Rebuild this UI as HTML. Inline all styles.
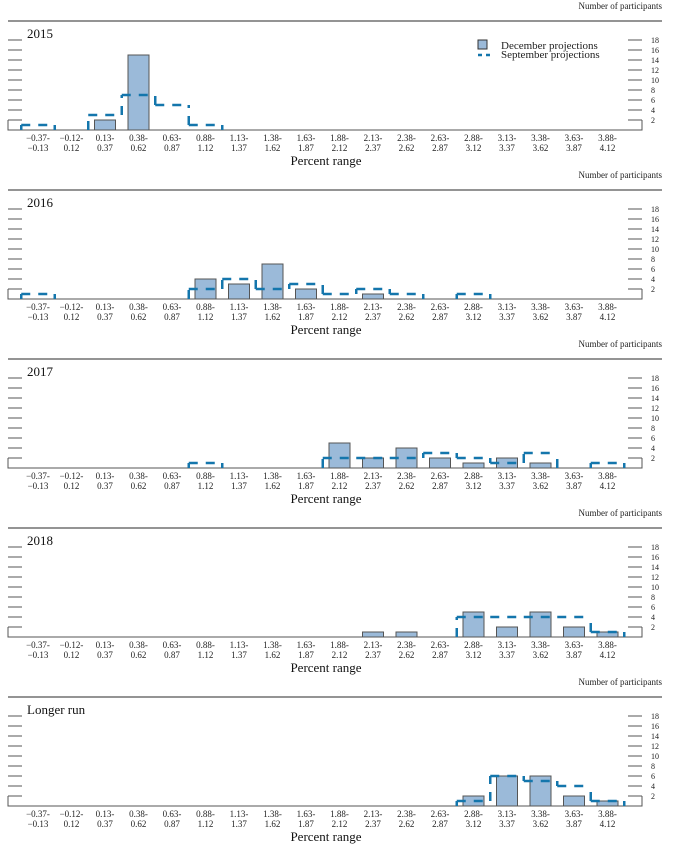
<!DOCTYPE html>
<html><head><meta charset="utf-8"><style>
body{margin:0;background:#fff;}
svg{display:block;}
svg text{font-family:"Liberation Serif","DejaVu Serif",serif;}
</style></head><body>
<svg id="chart" width="674" height="849" font-family="Liberation Serif, serif"></svg>
<script>
const binsTop=["\u22120.37-","\u22120.12-","0.13-","0.38-","0.63-","0.88-","1.13-","1.38-","1.63-","1.88-","2.13-","2.38-","2.63-","2.88-","3.13-","3.38-","3.63-","3.88-"];
const binsBot=["\u22120.13","0.12","0.37","0.62","0.87","1.12","1.37","1.62","1.87","2.12","2.37","2.62","2.87","3.12","3.37","3.62","3.87","4.12"];
const panelTitles=["2015","2016","2017","2018","Longer run"];
const yTicks=[2,4,6,8,10,12,14,16,18];
const dec2015=[0,0,2,15,0,0,0,0,0,0,0,0,0,0,0,0,0,0];
const sep2015=[1,0,3,7,5,1,0,0,0,0,0,0,0,0,0,0,0,0];
const dec2016=[0,0,0,0,0,4,3,7,2,0,1,0,0,0,0,0,0,0];
const sep2016=[1,0,0,0,0,2,4,2,3,1,2,1,0,1,0,0,0,0];
const dec2017=[0,0,0,0,0,0,0,0,0,5,2,4,2,1,2,1,0,0];
const sep2017=[0,0,0,0,0,1,0,0,0,2,2,2,3,2,1,3,0,1];
const dec2018=[0,0,0,0,0,0,0,0,0,0,1,1,0,5,2,5,2,1];
const sep2018=[0,0,0,0,0,0,0,0,0,0,0,0,0,4,4,4,4,1];
const decLR=[0,0,0,0,0,0,0,0,0,0,0,0,0,2,6,6,2,1];
const sepLR=[0,0,0,0,0,0,0,0,0,0,0,0,0,1,6,5,4,1];
const decSeries=[dec2015,dec2016,dec2017,dec2018,decLR];
const sepSeries=[sep2015,sep2016,sep2017,sep2018,sepLR];

const NS="http://www.w3.org/2000/svg";
const svg=document.getElementById('chart');
function mk(tag,attrs,parent){const e=document.createElementNS(NS,tag);for(const k in attrs)e.setAttribute(k,attrs[k]);if(tag==='text')e.setAttribute('font-family','Liberation Serif, serif');(parent||svg).appendChild(e);return e;}
const BW=33.5, X0=38;
function xC(i){return X0+i*BW;}
function xE(i){return X0-BW/2+i*BW;}

panelTitles.forEach((title,p)=>{
  const off=p*169;
  const base=130+off;
  const yS=v=>base-v*5;
  const g=mk('g',{});
  
  
  let t=mk('text',{x:662,y:9+off,'font-size':9,'text-anchor':'end',fill:'#222'},g);t.textContent="Number of participants";
  
  
  mk('line',{x1:8,x2:662,y1:21+off,y2:21+off,stroke:'#555','stroke-width':1.2},g);
  t=mk('text',{x:27,y:38+off,'font-size':13,fill:'#111'},g);t.textContent=title;
  
  
  yTicks.forEach(v=>{
    const y=yS(v);
    mk('line',{x1:8,x2:22,y1:y,y2:y,stroke:'#555','stroke-width':1},g);
    mk('line',{x1:628,x2:642,y1:y,y2:y,stroke:'#555','stroke-width':1},g);
    const tl=mk('text',{x:651,y:y+3,'font-size':8,fill:'#222'},g);tl.textContent=v;
    
    
  });
  mk('path',{d:`M8 ${yS(2)} V${base} H642 V${yS(2)}`,fill:'none',stroke:'#555','stroke-width':1},g);
  const dec=decSeries[p], sep=sepSeries[p];
  dec.forEach((v,i)=>{
    if(v<=0)return;
    const r=mk('rect',{x:xC(i)-10.5,y:yS(v),width:21,height:v*5,fill:'#9bbad9',stroke:'#555','stroke-width':1},g);
    
    
  });
  let d='';
  sep.forEach((v,i)=>{
    if(v>0)d+=`M${xE(i)} ${yS(v)} H${xE(i+1)} `;
    const nv=i+1<sep.length?sep[i+1]:0;
    if(i===0&&v>0)d+=`M${xE(0)} ${base} V${yS(v)} `;
    if(nv!==v)d+=`M${xE(i+1)} ${yS(Math.min(v,nv))} V${yS(Math.max(v,nv))} `;
  });
  const sp=mk('path',{d:d,fill:'none',stroke:'#1476ac','stroke-width':2.5,'stroke-dasharray':'9,8'},g);
  
  
  binsTop.forEach((b,i)=>{
    const a=mk('text',{x:xC(i),y:141+off,'font-size':9,'text-anchor':'middle',fill:'#222'},g);a.textContent=b;
    
    
    const c=mk('text',{x:xC(i),y:151+off,'font-size':9,'text-anchor':'middle',fill:'#222'},g);c.textContent=binsBot[i];
    
    
  });
  t=mk('text',{x:326,y:165+off,'font-size':13,'text-anchor':'middle',fill:'#111'},g);t.textContent="Percent range";
  
  
});
const lg=mk('g',{});


mk('rect',{x:478,y:40,width:9,height:9,fill:'#9bbad9',stroke:'#333','stroke-width':1},lg);
let lt=mk('text',{x:501,y:49,'font-size':11,fill:'#222'},lg);lt.textContent="December projections";


mk('path',{d:'M478 55 H491',stroke:'#1476ac','stroke-width':2.5,'stroke-dasharray':'4,4'},lg);
lt=mk('text',{x:501,y:58,'font-size':11,fill:'#222'},lg);lt.textContent="September projections";


</script>
</body></html>
